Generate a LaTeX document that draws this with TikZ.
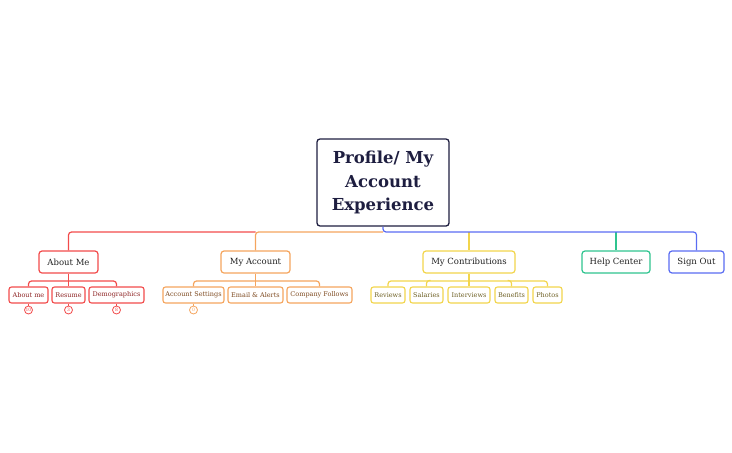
\documentclass[tikz,border=0pt]{standalone}
\usepackage{fontspec}
\setmainfont{DejaVu Serif}
\definecolor{rootc}{HTML}{1E1E40}
\definecolor{redc}{HTML}{F24B4B}
\definecolor{orangec}{HTML}{F5A55E}
\definecolor{yellowc}{HTML}{F2D54C}
\definecolor{greenc}{HTML}{2FC48F}
\definecolor{bluec}{HTML}{5A6CF2}
\definecolor{redt}{HTML}{8E2424}
\definecolor{oranget}{HTML}{7E4A20}
\definecolor{yellowt}{HTML}{6E6024}
\definecolor{textc}{HTML}{222222}
\begin{document}
\begin{tikzpicture}[x=1pt,y=-1pt,
  rootbox/.style={draw=rootc,line width=1.3pt,rounded corners=3pt,fill=white,
    minimum width=132pt,minimum height=87pt,align=center,text=rootc,
    font=\fontsize{16.5}{23.5}\selectfont\bfseries,inner sep=0pt},
  lone/.style={draw=#1,line width=1.2pt,rounded corners=3pt,fill=white,
    minimum height=22pt,inner sep=0pt,text=textc,font=\fontsize{8.5}{10}\selectfont},
  ltwo/.style={draw=#1,line width=1.1pt,rounded corners=2.5pt,fill=white,
    minimum height=16pt,inner sep=0pt,font=\fontsize{6.5}{8}\selectfont},
  conn/.style={draw=#1,line width=1.2pt,rounded corners=3pt},
  badge/.style={draw=#1,line width=0.8pt,circle,minimum size=8pt,inner sep=0pt,
    text=#1,font=\fontsize{4.5}{4.5}\selectfont,fill=white}
]
\useasboundingbox (0,0) rectangle (732,453);
\coordinate (bus) at (0,232);
\coordinate (bustwo) at (0,281);

% root
\node[rootbox] (root) at (383,182.5) {Profile/ My\\Account\\Experience};

% level 1
\node[lone=redc,minimum width=59pt] (am) at (68.5,262) {About Me};
\node[lone=orangec,minimum width=69pt] (ma) at (255.5,262) {My Account};
\node[lone=yellowc,minimum width=92pt] (mc) at (469,262) {My Contributions};
\node[lone=greenc,minimum width=68pt] (hc) at (616,262) {Help Center};
\node[lone=bluec,minimum width=55pt] (so) at (696.5,262) {Sign Out};

\draw[conn=redc] (ma.north |- bus) -| (am.north);
\draw[conn=orangec] (root.south |- bus) -| (ma.north);
\draw[conn=yellowc] (mc.north |- bus) -- (mc.north);
\draw[conn=greenc] (hc.north |- bus) -- (hc.north);
\draw[conn=bluec] (root.south) -- (root.south |- bus) -| (so.north);

% About Me children
\node[ltwo=redc,text=redt,minimum width=39pt] (a1) at (28.5,295) {About me};
\node[ltwo=redc,text=redt,minimum width=33pt] (a2) at (68.5,295) {Resume};
\node[ltwo=redc,text=redt,minimum width=55pt] (a3) at (116.5,295) {Demographics};
\draw[conn=redc] (a1.north) |- (am.south |- bustwo) -| (a3.north);
\draw[conn=redc] (am.south) -- (a2.north);

% My Account children
\node[ltwo=orangec,text=oranget,minimum width=61pt] (b1) at (193.5,295) {Account Settings};
\node[ltwo=orangec,text=oranget,minimum width=55pt] (b2) at (255.5,295) {Email \& Alerts};
\node[ltwo=orangec,text=oranget,minimum width=65pt] (b3) at (319.5,295) {Company Follows};
\draw[conn=orangec] (b1.north) |- (ma.south |- bustwo) -| (b3.north);
\draw[conn=orangec] (ma.south) -- (b2.north);

% My Contributions children
\node[ltwo=yellowc,text=yellowt,minimum width=34pt] (c1) at (388,295) {Reviews};
\node[ltwo=yellowc,text=yellowt,minimum width=33pt] (c2) at (426.5,295) {Salaries};
\node[ltwo=yellowc,text=yellowt,minimum width=42pt] (c3) at (469,295) {Interviews};
\node[ltwo=yellowc,text=yellowt,minimum width=33pt] (c4) at (511.5,295) {Benefits};
\node[ltwo=yellowc,text=yellowt,minimum width=29pt] (c5) at (547.5,295) {Photos};
\draw[conn=yellowc] (c1.north) |- (mc.south |- bustwo) -| (c5.north);
\draw[conn=yellowc] (mc.south) -- (c3.north);
\draw[conn=yellowc] (c2.north) |- ++(4,-6);
\draw[conn=yellowc] (c4.north) |- ++(-4,-6);

% badges
\node[badge=redc] (n1) at (28.5,310) {10};
\node[badge=redc] (n2) at (68.5,310) {3};
\node[badge=redc] (n3) at (116.5,310) {8};
\node[badge=orangec] (n4) at (193.5,310) {0};
\draw[draw=redc,line width=0.8pt] (a1.south) -- (n1.north);
\draw[draw=redc,line width=0.8pt] (a2.south) -- (n2.north);
\draw[draw=redc,line width=0.8pt] (a3.south) -- (n3.north);
\draw[draw=orangec,line width=0.8pt] (b1.south) -- (n4.north);
\end{tikzpicture}
\end{document}
